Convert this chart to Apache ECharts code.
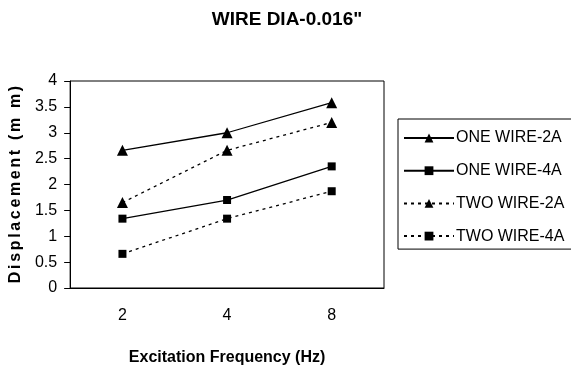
<!DOCTYPE html>
<html>
<head>
<meta charset="utf-8">
<script src="https://cdn.jsdelivr.net/npm/echarts@6/dist/echarts.min.js"></script>
<style>
  html, body { margin: 0; padding: 0; background: #fff; }
  #chart { width: 571px; height: 371px; }
</style>
</head>
<body>
<div id="chart"></div>
<script>
var freqs = ['2', '4', '8'];
var oneWire2A = [2.66, 3.0, 3.58];
var oneWire4A = [1.34, 1.7, 2.35];
var twoWire2A = [1.65, 2.66, 3.2];
var twoWire4A = [0.66, 1.34, 1.87];

var FONT = "'Liberation Sans', Arial, sans-serif";
var dotted = [3, 4];

// narrow spaces between letters to mimic the stretched axis title
var yName = 'Displacement (m m)'.split('').join('\u2006');

function mkSeries(name, data, symbol, size, dashed) {
	return {
		name: name,
		type: 'line',
		data: data,
		symbol: symbol,
		symbolSize: size,
		color: '#000',
		itemStyle: { color: '#000' },
		lineStyle: {
			color: '#000',
			width: 1.3,
			type: dashed ? dotted : 'solid'
		},
		xAxisIndex: 0,
		animation: false
	};
}

var chart = echarts.init(document.getElementById('chart'));

chart.setOption({
	backgroundColor: '#fff',
	title: {
		text: 'WIRE DIA-0.016"',
		left: 282,
		top: 5,
		textAlign: 'center',
		textStyle: {
			fontFamily: FONT,
			fontSize: 19,
			fontWeight: 'bold',
			color: '#000'
		}
	},
	legend: {
		left: 398,
		top: 119,
		orient: 'vertical',
		itemWidth: 50,
		itemHeight: 11,
		itemGap: 14.7,
		padding: [10, 60, 4, 5],
		borderColor: '#000',
		borderWidth: 1,
		textStyle: {
			fontFamily: FONT,
			fontSize: 16,
			lineHeight: 18,
			color: '#000',
			padding: [0, 0, 0, -3]
		},
		data: ['ONE WIRE-2A', 'ONE WIRE-4A', 'TWO WIRE-2A', 'TWO WIRE-4A']
	},
	grid: {
		left: 69,
		top: 81,
		width: 315,
		height: 208,
		show: true,
		borderColor: '#000',
		borderWidth: 1
	},
	xAxis: [{
		type: 'category',
		data: freqs,
		boundaryGap: true,
		name: 'Excitation Frequency (Hz)',
		nameLocation: 'middle',
		nameGap: 62,
		nameTextStyle: {
			fontFamily: FONT,
			fontSize: 16,
			fontWeight: 'bold',
			color: '#000'
		},
		axisLine: { lineStyle: { color: '#000', width: 1 } },
		axisTick: { interval: 0, length: 5, lineStyle: { color: '#000' } },
		axisLabel: {
			fontFamily: FONT,
			fontSize: 16,
			color: '#000',
			margin: 20
		},
		splitLine: { show: false }
	}, {
		// second axis only for the ticks under each category
		type: 'category',
		data: freqs,
		position: 'bottom',
		gridIndex: 0,
		axisLine: { show: false },
		axisTick: { alignWithLabel: true, interval: 0, length: 5, lineStyle: { color: '#000' } },
		axisLabel: { show: false },
		splitLine: { show: false }
	}],
	yAxis: {
		type: 'value',
		min: 0,
		max: 4,
		interval: 0.5,
		name: yName,
		nameLocation: 'middle',
		nameGap: 42,
		nameTextStyle: {
			fontFamily: FONT,
			fontSize: 16,
			fontWeight: 'bold',
			color: '#000'
		},
		axisLine: { show: true, lineStyle: { color: '#000', width: 1 } },
		axisTick: { show: true, length: 6, lineStyle: { color: '#000' } },
		axisLabel: {
			fontFamily: FONT,
			fontSize: 16,
			color: '#000',
			margin: 13
		},
		splitLine: { show: false }
	},
	series: [
		mkSeries('ONE WIRE-2A', oneWire2A, 'triangle', 11, false),
		mkSeries('ONE WIRE-4A', oneWire4A, 'rect', 8, false),
		mkSeries('TWO WIRE-2A', twoWire2A, 'triangle', 11, true),
		mkSeries('TWO WIRE-4A', twoWire4A, 'rect', 8, true)
	]
});
</script>
</body>
</html>
